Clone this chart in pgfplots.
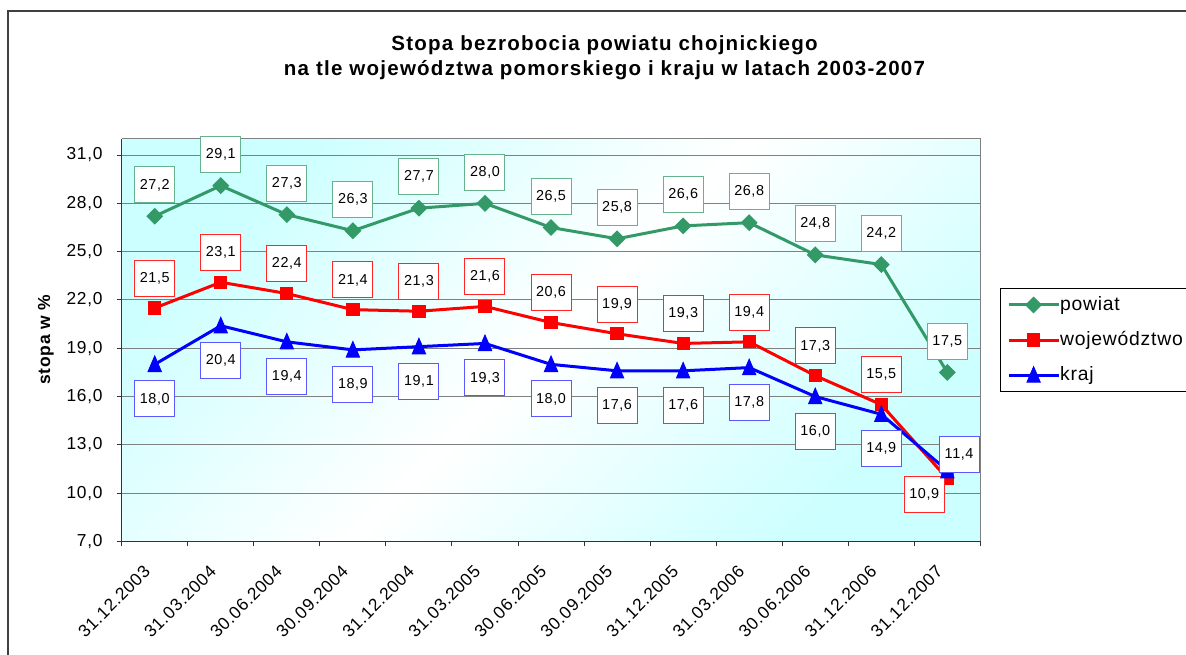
\documentclass[border=0pt]{standalone}
\usepackage{fontspec}
\setmainfont{Liberation Sans}[LetterSpace=4]
\newfontfamily\titlefont{Liberation Sans}[LetterSpace=6]
\usepackage{pgfplots}
\usepackage{pgfplotstable}
\pgfplotsset{compat=1.18}

\definecolor{pgreen}{RGB}{51,153,102}
\definecolor{bgcyan}{RGB}{204,255,255}

% x = category index, y = value, dx/dy = label offset in pt
\pgfplotstableread{
x y dx dy
0 27.2 0 23.5
1 29.1 0 23.5
2 27.3 0 23.5
3 26.3 0 23.5
4 27.7 0 23.5
5 28.0 0 23.5
6 26.5 0 23.5
7 25.8 0 23.5
8 26.6 0 23.5
9 26.8 0 23.5
10 24.8 0 23.5
11 24.2 0 23.5
12 17.5 0 23.5
}\powiat

\pgfplotstableread{
x y dx dy
0 21.5 0 22.3
1 23.1 0 22.3
2 22.4 0 22.3
3 21.4 0 22.3
4 21.3 0 22.3
5 21.6 0 22.3
6 20.6 0 22.3
7 19.9 0 22.3
8 19.3 0 22.3
9 19.4 0 22.3
10 17.3 0 22.3
11 15.5 0 22.3
12 10.9 -17.3 -11.6
}\wojewodztwo

\pgfplotstableread{
x y dx dy
0 18.0 0 -24.4
1 20.4 0 -24.4
2 19.4 0 -24.4
3 18.9 0 -24.4
4 19.1 0 -24.4
5 19.3 0 -24.4
6 18.0 0 -24.4
7 17.6 0 -24.4
8 17.6 0 -24.4
9 17.8 0 -24.4
10 16.0 0 -24.4
11 14.9 0 -24.4
12 11.4 8.8 13.7
}\kraj

\begin{document}
\begin{tikzpicture}
\begin{axis}[
  at={(0pt,0pt)}, anchor=south west,
  scale only axis, width=644pt, height=301.9pt,
  xmin=-0.5, xmax=12.5, ymin=7, ymax=32,
  clip=false,
  axis x line*=bottom, axis y line*=left,
  axis line style={black!80, line width=1.1pt},
  axis background/.style={shade, top color=bgcyan, bottom color=bgcyan, middle color=white, shading angle=45},
  ymajorgrids, grid style={gray, line width=0.75pt},
  tick align=outside,
  major tick length=3.75pt, minor tick length=3.75pt,
  every tick/.style={black!80, line width=0.75pt},
  major x tick style={draw=none},
  xtick={0,...,12},
  minor xtick={-0.5,0.5,...,12.5},
  xticklabels={31.12.2003,31.03.2004,30.06.2004,30.09.2004,31.12.2004,31.03.2005,30.06.2005,30.09.2005,31.12.2005,31.03.2006,30.06.2006,31.12.2006,31.12.2007},
  xticklabel style={xshift=-5.75pt, yshift=-16.5pt, rotate=45, anchor=east, inner sep=0pt, font=\fontsize{13}{15}\selectfont},
  ytick={7,10,...,31},
  yticklabel style={anchor=east, inner sep=0pt, xshift=-10.5pt, font=\fontsize{13}{15}\selectfont,
    /pgf/number format/.cd, fixed, fixed zerofill, precision=1, use comma},
  /pgf/number format/assume math mode=true,
  ylabel={stopa w \%},
  ylabel style={at={(axis description cs:-0.0884,0.5014)}, anchor=center, font=\bfseries\fontsize{13.1}{15}\selectfont},
  nodes near coords={\pgfmathprintnumber[fixed,fixed zerofill,precision=1,use comma]{\pgfplotspointmeta}},
  every node near coord/.append style={anchor=center, fill=white, text=black, line width=0.75pt,
    minimum width=30pt, minimum height=27pt, inner sep=0pt, font=\fontsize{10.8}{13}\selectfont,
    xshift=\dx pt, yshift=\dy pt},
  legend style={at={(1.0228,0.6298)}, anchor=north west, draw=black, line width=0.75pt, fill=white,
    font=\fontsize{14.5}{17}\selectfont, inner xsep=5pt, inner ysep=5pt, row sep=11.6pt,
    nodes={inner sep=0pt, text height=11.2pt, text depth=3.5pt},
    /tikz/every even column/.append style={column sep=3.75pt}},
  legend cell align=left,
  legend image code/.code={\draw[mark repeat=2, mark phase=2, #1] plot coordinates {(0pt,0pt) (18.75pt,0pt) (37.5pt,0pt)};},
]
\addplot[pgreen, line width=2.25pt, mark=square*, mark size=4.1pt,
  mark options={solid, rotate=45, line width=0.75pt},
  visualization depends on={\thisrow{dx}\as\dx},
  visualization depends on={\thisrow{dy}\as\dy},
  every node near coord/.append style={draw=pgreen!75!white}]
  table[x=x, y=y, meta=y] {\powiat};
\addlegendentry{powiat}
\addplot[red, line width=2.25pt, mark=square*, mark size=4.6pt,
  mark options={solid, line width=0.75pt},
  visualization depends on={\thisrow{dx}\as\dx},
  visualization depends on={\thisrow{dy}\as\dy},
  every node near coord/.append style={draw=red!85!white}]
  table[x=x, y=y, meta=y] {\wojewodztwo};
\addlegendentry{województwo}
\addplot[blue, line width=2.25pt, mark=triangle*, mark size=5.7pt,
  mark options={solid, line width=0.75pt, yshift=-1.5pt, yscale=1.35},
  visualization depends on={\thisrow{dx}\as\dx},
  visualization depends on={\thisrow{dy}\as\dy},
  every node near coord/.append style={draw=blue!65!white}]
  table[x=x, y=y, meta=y] {\kraj};
\addlegendentry{kraj}
\draw[gray, line width=0.75pt] (rel axis cs:0,1) -- (rel axis cs:1,1) -- (rel axis cs:1,0);
\end{axis}
\begin{scope}[x=0.75pt, y=-0.75pt, shift={(-91.275pt,406.125pt)}]
  \node[anchor=base, inner sep=0pt, font=\titlefont\bfseries\fontsize{15.4}{18}\selectfont]
    at (604.5,51) {Stopa bezrobocia powiatu chojnickiego};
  \node[anchor=base, inner sep=0pt, font=\titlefont\bfseries\fontsize{15.4}{18}\selectfont]
    at (604.5,76) {na tle województwa pomorskiego i kraju w latach 2003-2007};
  \draw[black!75, line width=1.5pt] (8.5,720) -- (8.5,11) -- (1300,11);
  \pgfresetboundingbox
  \useasboundingbox (0,0) rectangle (1186,655);
\end{scope}
\end{tikzpicture}
\end{document}
